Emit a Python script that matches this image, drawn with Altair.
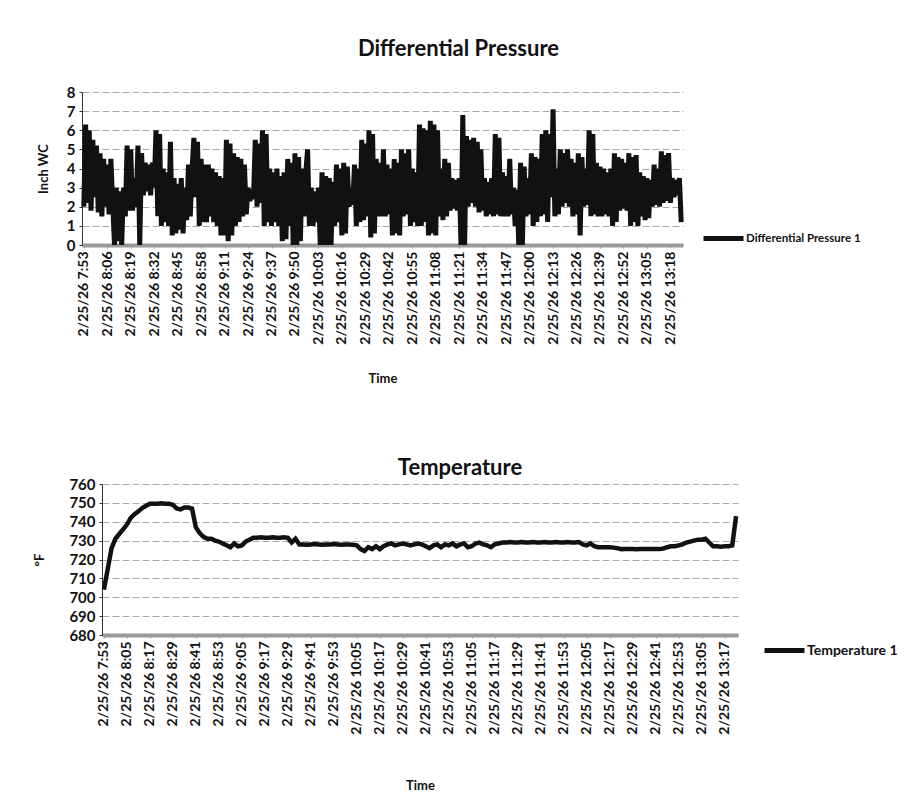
import altair as alt
import pandas as pd

START = "2026-02-25 07:53:00"

# Differential pressure, one reading per minute from 7:53 (inch WC)
pressure_values = [
    2.0, 6.3, 2.2, 6.0, 1.8, 5.5, 2.5, 5.2, 1.7, 4.8,
    1.5, 4.5, 2.0, 4.2, 1.6, 4.5, 2.2, 0.0, 3.0, 0.2, 2.8, 0.0, 3.0,
    1.5, 5.2, 1.8, 5.0, 1.8, 3.5, 2.0, 5.2, 0.0, 4.8,
    2.6, 4.3, 2.8, 4.2, 2.6, 4.3, 3.0, 6.0, 1.5, 5.8,
    1.0, 4.0, 1.2, 3.8, 1.0, 5.4, 0.5, 3.5, 0.6, 3.2, 0.8, 3.5, 0.6, 3.0,
    1.3, 4.2, 1.5, 4.0, 5.6, 2.5, 5.4, 1.0, 4.5, 1.2, 4.2,
    1.2, 4.2, 1.5, 4.0, 1.2, 3.8, 1.0, 3.6, 0.5, 3.5, 0.5,
    5.5, 0.2, 5.3, 0.5, 4.8, 1.0, 4.6, 1.2, 4.5, 1.5, 4.2, 1.6,
    3.0, 2.3, 2.9, 2.4, 5.5, 2.0, 5.3, 2.2, 6.0, 1.0, 5.8, 1.2,
    4.0, 1.0, 3.8, 1.2, 4.0, 1.0, 3.6, 0.2, 3.8, 0.3, 4.5, 1.0, 4.3,
    0.0, 4.8, 0.0, 4.6, 0.2, 4.0, 1.5, 3.8, 5.0, 1.0,
    3.0, 1.0, 2.8, 1.2, 3.0, 0.0, 3.8, 0.0, 3.6, 0.0, 3.5, 0.0, 3.3,
    1.0, 4.2, 1.2, 4.0, 0.5, 4.3, 0.6, 4.1, 2.0, 3.0, 2.1,
    4.2, 1.0, 4.0, 1.2, 5.5, 1.3, 5.3, 1.5, 6.0, 0.4, 5.8, 0.6,
    4.5, 1.5, 4.3, 1.5, 5.0, 1.5, 4.2, 1.6, 4.0,
    0.5, 4.5, 0.6, 4.3, 0.5, 5.0, 1.5, 4.8, 1.6, 5.0,
    1.0, 4.0, 1.2, 3.8, 1.0, 6.3, 1.0, 6.1, 1.2, 6.0,
    0.5, 6.5, 0.6, 6.3, 0.5, 6.0, 1.5, 4.0, 1.3, 4.5, 1.5, 4.3,
    1.8, 3.5, 1.9, 3.4, 1.8, 3.5, 0.0, 6.8, 0.0,
    5.7, 2.0, 5.5, 2.2, 5.6, 2.0, 5.4, 1.7, 5.0, 1.8,
    3.5, 1.5, 3.3, 1.6, 3.5, 1.5, 5.8, 1.6, 5.6, 1.5,
    3.8, 1.5, 3.6, 1.5, 4.5, 1.6, 3.0, 1.0, 2.9, 0.0, 4.3, 0.0, 4.1,
    1.5, 3.5, 1.6, 4.8, 1.0, 4.6, 1.2, 4.5, 1.5, 5.8, 1.6,
    6.0, 1.2, 5.8, 2.5, 7.1, 1.5, 4.0, 1.6,
    5.0, 2.0, 4.8, 2.2, 5.0, 2.0, 4.5, 1.5, 4.3, 1.6,
    4.8, 0.5, 4.6, 2.0, 4.0, 2.1, 6.0, 1.5, 5.8, 1.6, 4.3, 1.5, 4.1,
    1.5, 4.0, 1.6, 3.8, 1.5, 4.0, 1.0, 4.8, 1.2, 4.6,
    1.8, 4.5, 1.9, 4.3, 1.8, 4.8, 1.0, 4.6, 1.2, 4.7, 1.0,
    3.8, 1.5, 3.6, 1.3, 3.5, 1.4, 3.4, 2.0, 4.2, 2.1, 4.0, 2.0,
    4.9, 2.2, 4.7, 2.3, 4.8, 2.2, 3.5, 2.5, 3.4, 2.6, 3.5, 1.2,
]

# Temperature, one reading every 2 minutes from 7:53 (degrees F)
temperature_values = [
    704, 715, 726, 731, 733.5, 736, 738.5, 742, 744, 745.5,
    747.3, 748.5, 749.5, 749.5, 749.5, 749.8, 749.5, 749.5, 749, 747,
    746.5, 747.5, 747.5, 747, 737, 734, 732, 731, 731, 730,
    729.5, 728.5, 727.5, 726.5, 728.5, 727, 727.5, 729.5, 730.5, 731.5,
    731.5, 731.8, 731.5, 731.5, 731.8, 731.5, 731.5, 731.8, 731.5, 729,
    731, 728, 728, 727.8, 728, 728.2, 728, 727.8, 728, 728,
    728.2, 728, 727.8, 728, 728, 727.8, 727.5, 725.5, 724.5, 726.5,
    725.5, 727, 725.5, 727, 728, 728.5, 727.5, 728, 728.5, 728,
    727.5, 728, 728.5, 728, 727, 726, 727.5, 728, 726.5, 728,
    727.5, 728.5, 727, 728, 728.5, 726.5, 727, 728.5, 729, 728,
    727.5, 726.5, 728, 728.5, 729, 729, 729.2, 729, 729, 729.3,
    729, 729, 729.2, 729, 729, 729.3, 729, 729, 729.2, 729,
    729, 729.3, 729, 729, 729.2, 728, 727.5, 728.5, 727, 726.5,
    726.5, 726.5, 726.5, 726.3, 726, 725.5, 725.6, 725.5, 725.5, 725.4,
    725.5, 725.5, 725.6, 725.5, 725.5, 725.5, 725.8, 726.5, 727, 727,
    727.5, 728, 729, 729.5, 730, 730.5, 730.5, 731, 729, 727,
    727, 726.8, 727, 727, 727.5, 743,
]

pressure_tick_labels = ["7:53", "8:06", "8:19", "8:32", "8:45", "8:58", "9:11", "9:24",
                        "9:37", "9:50", "10:03", "10:16", "10:29", "10:42", "10:55",
                        "11:08", "11:21", "11:34", "11:47", "12:00", "12:13", "12:26",
                        "12:39", "12:52", "13:05", "13:18"]
temperature_tick_labels = ["7:53", "8:05", "8:17", "8:29", "8:41", "8:53", "9:05", "9:17",
                           "9:29", "9:41", "9:53", "10:05", "10:17", "10:29", "10:41",
                           "10:53", "11:05", "11:17", "11:29", "11:41", "11:53", "12:05",
                           "12:17", "12:29", "12:41", "12:53", "13:05", "13:17"]


def dt(hm, sec=0):
    h, m = (int(v) for v in hm.split(":"))
    return alt.DateTime(year=2026, month=2, date=25, hours=h, minutes=m, seconds=sec)


p_times = pd.date_range(START, periods=len(pressure_values), freq="1min")
t_times = pd.date_range(START, periods=len(temperature_values), freq="2min")

p_df = pd.DataFrame({
    "time": p_times.strftime("%Y-%m-%dT%H:%M:%S"),
    "value": pressure_values,
    "series": "Differential Pressure 1",
})
t_df = pd.DataFrame({
    "time": t_times.strftime("%Y-%m-%dT%H:%M:%S"),
    "value": temperature_values,
    "series": "Temperature 1",
})

FONT = "Lato"
LABEL_FMT = "%-m/%-d/%y %-H:%M"
T_SHIFT = 20  # temperature plot sits 20px further right than the pressure plot


def x_axis(ticks, pad):
    return alt.Axis(
        values=[dt(v) for v in ticks], format=LABEL_FMT, formatType="time",
        labelAngle=-90, labelOverlap=False, labelBound=False, labelFlush=False,
        labelFont=FONT, labelFontSize=14, labelFontWeight="bold", labelColor="#111",
        labelPadding=3, title="Time", titleFont=FONT, titleFontSize=13,
        titleFontWeight="bold", titleColor="#111", titlePadding=pad,
        grid=False, domainColor="#9a9a9a", domainWidth=4, tickColor="#9a9a9a",
        tickSize=3,
    )


def y_axis(title, vals, pad, offset=0):
    return alt.Axis(
        values=vals, title=title, titleFont=FONT, titleFontSize=13,
        titleFontWeight="bold", titleColor="#111", titlePadding=pad,
        labelFont=FONT, labelFontSize=15, labelFontWeight="bold", labelColor="#111",
        labelPadding=4, grid=True, gridColor="#a8a8a8", gridDash=[7, 3],
        gridWidth=1, domainColor="#333", domainWidth=1, tickColor="#333", tickSize=3,
        offset=offset,
    )


def legend(x, y, size):
    return alt.Legend(
        title=None, orient="none", legendX=x, legendY=y, symbolType="stroke",
        symbolStrokeWidth=5, symbolSize=1600, labelFont=FONT, labelFontSize=size,
        labelFontWeight="bold", labelColor="#111", labelOffset=0,
    )


pressure = alt.Chart(p_df).mark_line(strokeWidth=5, strokeJoin="miter").encode(
    x=alt.X("time:T", scale=alt.Scale(domain=[dt("7:52"), dt("13:25")], nice=False),
            axis=x_axis(pressure_tick_labels, 28)),
    y=alt.Y("value:Q", scale=alt.Scale(domain=[0, 8], nice=False),
            axis=y_axis("Inch WC", list(range(0, 9)), 16)),
    color=alt.Color("series:N", scale=alt.Scale(range=["#111111"]),
                    legend=legend(619, 124, 11.5)),
).properties(
    width=601, height=153,
    title=alt.TitleParams("Differential Pressure", font=FONT, fontSize=22,
                          fontWeight="bold", color="#111", anchor="middle",
                          frame="group", dx=76, offset=24),
)

T_WIDTH = 636 + T_SHIFT
temperature = alt.Chart(t_df).mark_line(strokeWidth=4.5).encode(
    x=alt.X("time:T", scale=alt.Scale(domain=[dt("7:52"), dt("13:24")], nice=False,
                                      range=[T_SHIFT, T_WIDTH]),
            axis=x_axis(temperature_tick_labels, 45)),
    y=alt.Y("value:Q", scale=alt.Scale(domain=[680, 760], nice=False),
            axis=y_axis("°F", list(range(680, 761, 10)), 22, offset=-T_SHIFT)),
    color=alt.Color("series:N", scale=alt.Scale(range=["#111111"]),
                    legend=legend(680, 144, 14)),
).properties(
    width=T_WIDTH, height=151,
    title=alt.TitleParams("Temperature", font=FONT, fontSize=22,
                          fontWeight="bold", color="#111", anchor="middle",
                          frame="group", dx=50, offset=-3),
)

chart = alt.ConcatChart(
    concat=[pressure, temperature], columns=1, align="none", spacing=71,
).resolve_scale(
    color="independent", x="independent", y="independent"
).configure_view(stroke=None).properties(
    padding={"left": 25, "top": 30, "right": 5, "bottom": 0}
)

chart.save("out.html", embed_options={"renderer": "svg", "actions": False})
